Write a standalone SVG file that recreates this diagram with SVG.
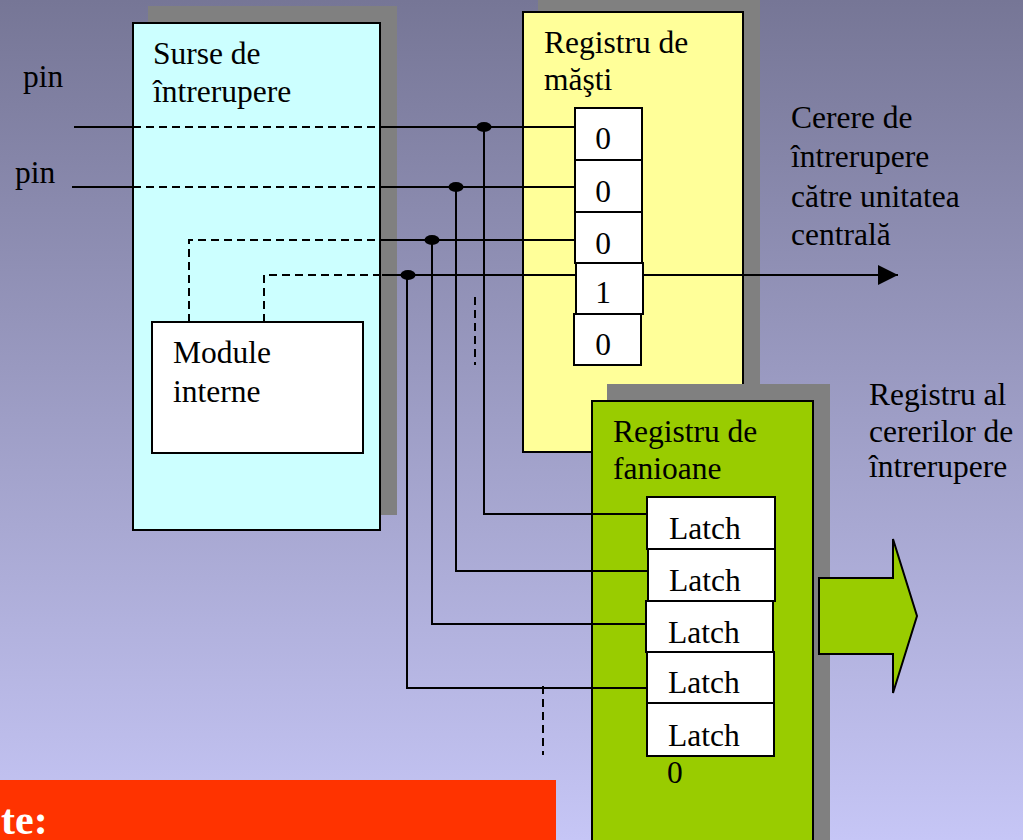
<svg xmlns="http://www.w3.org/2000/svg" width="1023" height="840" viewBox="0 0 1023 840">
  <defs>
    <linearGradient id="bg" x1="0" y1="0" x2="0" y2="1">
      <stop offset="0" stop-color="#767696"/>
      <stop offset="1" stop-color="#c6c6f6"/>
    </linearGradient>
    <marker id="arrow" viewBox="0 0 20 20" refX="20" refY="10" markerWidth="20" markerHeight="20" markerUnits="userSpaceOnUse" orient="auto">
      <path d="M0,0 L20,10 L0,20 Z" fill="#000"/>
    </marker>
  </defs>
  <style>
    .t { font-family: "Liberation Serif", "Times New Roman", serif; font-size: 31.5px; fill: #000; }
    .shadow { fill: #808080; }
    .box { stroke: #000; stroke-width: 2; }
    .cell { fill: #fff; stroke: #000; stroke-width: 2; }
    .w { fill: none; stroke: #000; stroke-width: 2; }
    .d { fill: none; stroke: #000; stroke-width: 2; stroke-dasharray: 8 5; }
    .dot { fill: #000; }
  </style>

  <rect x="0" y="0" width="1023" height="840" fill="url(#bg)"/>

  <!-- interrupt sources block -->
  <g id="sources">
    <rect class="shadow" x="148" y="6" width="249" height="509"/>
    <rect class="box" x="133" y="23" width="247" height="507" fill="#ccffff"/>
    <text class="t" x="153" y="64">Surse de</text>
    <text class="t" x="153" y="102">întrerupere</text>
  </g>

  <!-- internal modules -->
  <g id="modules">
    <rect class="box" x="152" y="322" width="211" height="131" fill="#fff"/>
    <text class="t" x="173" y="363">Module</text>
    <text class="t" x="173" y="402">interne</text>
  </g>

  <!-- mask register -->
  <g id="mask-register">
    <rect class="shadow" x="538" y="-2" width="222" height="440"/>
    <rect class="box" x="523" y="12" width="220" height="440" fill="#ffff99"/>
    <text class="t" x="544" y="53">Registru de</text>
    <text class="t" x="544" y="90">măşti</text>
  </g>

  <!-- flag register -->
  <g id="flag-register">
    <rect class="shadow" x="607" y="384" width="223" height="470"/>
    <rect class="box" x="592" y="401" width="221" height="460" fill="#99cc00"/>
    <text class="t" x="613" y="442">Registru de</text>
    <text class="t" x="613" y="479">fanioane</text>
  </g>

  <!-- mask bits -->
  <g id="mask-bits">
    <rect class="cell" x="575" y="108" width="67" height="52"/>
    <rect class="cell" x="575" y="160" width="67" height="52"/>
    <rect class="cell" x="575" y="212" width="67" height="51"/>
    <rect class="cell" x="576" y="263" width="67" height="51"/>
    <rect class="cell" x="574" y="314" width="67" height="51"/>
    <g class="t" text-anchor="middle">
      <text x="603" y="149">0</text>
      <text x="603" y="202">0</text>
      <text x="603" y="254">0</text>
      <text x="603" y="303">1</text>
      <text x="603" y="355">0</text>
    </g>
  </g>

  <!-- flag latches -->
  <g id="latches">
    <rect class="cell" x="647" y="497" width="128" height="52"/>
    <rect class="cell" x="648" y="549" width="127" height="52"/>
    <rect class="cell" x="646" y="601" width="127" height="51"/>
    <rect class="cell" x="647" y="652" width="127" height="51"/>
    <rect class="cell" x="647" y="703" width="127" height="53"/>
    <g class="t">
      <text x="669" y="539">Latch</text>
      <text x="669" y="591">Latch</text>
      <text x="668" y="643">Latch</text>
      <text x="668" y="693">Latch</text>
      <text x="668" y="746">Latch</text>
      <text x="667" y="783">0</text>
    </g>
  </g>

  <!-- output block arrow of the request register -->
  <g id="request-arrow">
    <path d="M819,578 L893,578 L893,539 L917,616 L893,693 L893,654 L819,654 Z" fill="#99cc00" stroke="#000" stroke-width="2" stroke-linejoin="miter"/>
  </g>

  <!-- wiring -->
  <g id="connectors">
    <!-- pin 1 -->
    <path class="w" d="M74,127 H133"/>
    <path class="d" d="M133,127 H380"/>
    <path class="w" d="M380,127 H575"/>
    <path class="w" d="M484,127 V514 H647"/>
    <!-- pin 2 -->
    <path class="w" d="M72,187 H133"/>
    <path class="d" d="M133,187 H380"/>
    <path class="w" d="M380,187 H575"/>
    <path class="w" d="M456,187 V571 H648"/>
    <!-- internal module line A -->
    <path class="d" d="M189,322 V240 H380"/>
    <path class="w" d="M380,240 H575"/>
    <path class="w" d="M432,240 V624 H646"/>
    <!-- internal module line B -->
    <path class="d" d="M264,322 V275 H382"/>
    <path class="w" d="M382,275 H576"/>
    <path class="w" d="M407,275 V688 H647"/>
    <!-- request to the CPU -->
    <path class="w" d="M643,275 H898" marker-end="url(#arrow)"/>
    <!-- continuation marks -->
    <path class="d" d="M475,297 V365" stroke-dasharray="7 5"/>
    <path class="d" d="M543,686 V755" stroke-dasharray="7 5"/>
    <!-- junctions -->
    <ellipse class="dot" cx="484" cy="127" rx="7.5" ry="5"/>
    <ellipse class="dot" cx="456" cy="187" rx="7.5" ry="5"/>
    <ellipse class="dot" cx="432" cy="240" rx="7.5" ry="5"/>
    <ellipse class="dot" cx="408" cy="275" rx="7.5" ry="5"/>
  </g>

  <!-- free labels -->
  <g id="labels">
    <text class="t" x="23" y="87">pin</text>
    <text class="t" x="15" y="183">pin</text>
    <text class="t" x="791" y="128">Cerere de</text>
    <text class="t" x="791" y="167">întrerupere</text>
    <text class="t" x="791" y="207">către unitatea</text>
    <text class="t" x="791" y="245">centrală</text>
    <text class="t" x="869" y="405">Registru al</text>
    <text class="t" x="869" y="442">cererilor de</text>
    <text class="t" x="869" y="477">întrerupere</text>
  </g>

  <!-- note banner -->
  <g id="note">
    <rect x="0" y="780" width="556" height="70" fill="#ff3300"/>
    <text x="1" y="834" font-family="'Liberation Serif', 'Times New Roman', serif" font-size="42" font-weight="bold" fill="#fff">te:</text>
  </g>
</svg>
